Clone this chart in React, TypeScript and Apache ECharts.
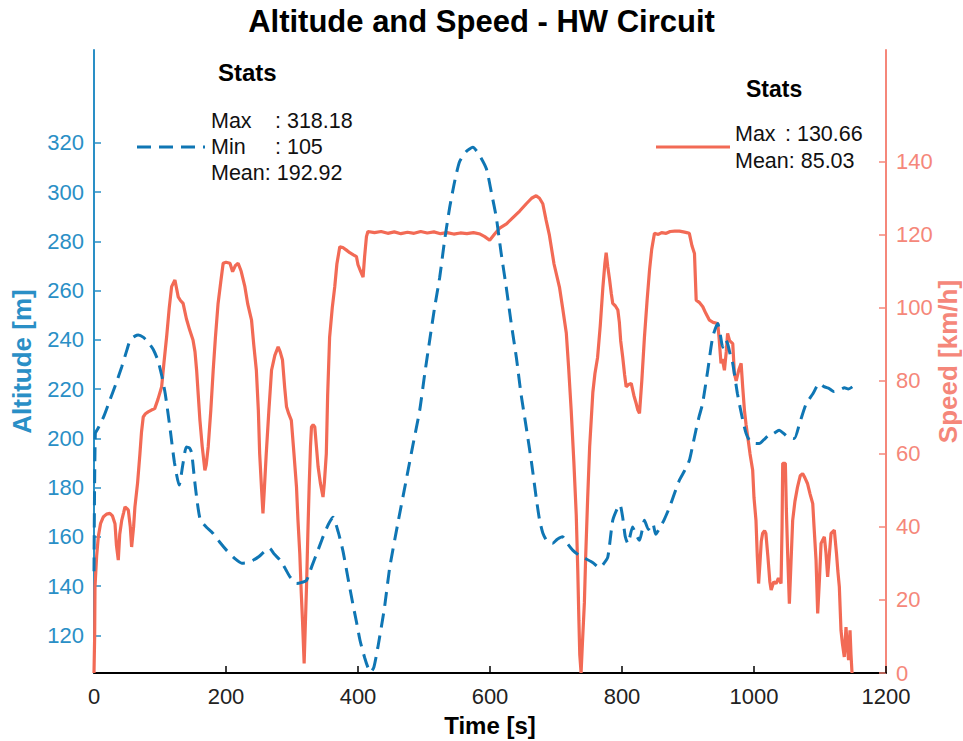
import React, { useEffect, useRef } from "react";
import * as echarts from "echarts";

const titleText = "Altitude and Speed - HW Circuit";
const xTicks = [0, 200, 400, 600, 800, 1000, 1200];
const altTicks = [120, 140, 160, 180, 200, 220, 240, 260, 280, 300, 320];
const speedTicks = [0, 20, 40, 60, 80, 100, 120, 140];

const altPoints: [number, number][] = [
  [0,146],[2,202],[6,204],[15,209],[24,215.5],[33,222],[42,229],[50,236],[55,240],[62,241.5],[67,242],[75,241],[82,239],[90,236],[97,231.5],[103,225],[108,218],[115,204.5],[122,190],[129,181],[135,190],[140,196.5],[145,196],[148,194],[152,184],[156,175],[161,167],[170,164],[180,161.5],[190,158],[201,154.5],[212,151.5],[224,149.3],[232,149.5],[241,150.5],[250,152],[258,154],[266,155.3],[273,153],[282,150.5],[290,147],[297,143.7],[307,141],[315,141.5],[322,142.3],[330,148],[340,155],[347,160],[355,165],[362,168],[370,162],[377,154.5],[385,143],[392,133],[398,125],[403,118],[410,111],[415,107],[419,105],[424,107],[430,115],[440,131],[448,147.4],[460,165],[473,183],[483,197],[493.5,211.4],[501,226],[508.6,239.8],[516,253],[523.8,265.4],[531,280],[539,293.9],[547,305],[554,312.4],[564,316.5],[574,318.2],[584,315],[594.5,309.5],[602,300],[609.6,289.6],[617,275],[624.7,261.2],[632,247],[640,232.7],[647,218],[655,204.3],[663,190],[670,175.9],[675,167],[680,161.6],[687,158],[695,157.4],[702,159],[710,160],[718,157],[725.6,154.5],[735,152.5],[745.8,151],[756,149.5],[766,147.4],[772,149],[778.5,151.8],[786,166.7],[793.7,172],[797,173],[801,168],[805,160],[809,157.3],[816,164],[821,161],[826.5,158.6],[830,162],[834,166.7],[840,163],[846.7,165.4],[851,161],[856.8,163.4],[864,167],[872,172],[880,178],[887,183],[895,187],[902,191],[907,197],[912,203.3],[917,209],[922,214],[930,227.7],[937.5,241.2],[945,246.6],[949,242],[952.6,237],[957,240],[960,238.5],[964,234],[967.8,230.4],[975,218],[983,207.3],[988,202],[993,199.2],[1000,198],[1008,197.9],[1015,199.5],[1023,201.3],[1030,202],[1038,203.3],[1045,202],[1051,200.6],[1061,199.9],[1069,206],[1079,214],[1089,218],[1099,222.3],[1106,221],[1114,220.2],[1121,219],[1129,219.5],[1137,220.5],[1143,220],[1149,220.9]
];

const speedPoints: [number, number][] = [
  [0,0],[1,10],[1.5,23.6],[4,32],[6.5,37.3],[10,41],[14,42.7],[19,43.5],[24,43.7],[28,43],[31.8,40.9],[34,35],[36.8,30.9],[39,38],[42,41.8],[45,44],[47,45.5],[50,45],[52,44.6],[55,40],[57,34.5],[60,40],[62,45.5],[66,52],[69.6,60.1],[72,66],[74.6,70.1],[78,71],[82,71.5],[87,72],[92,72.4],[97,75],[102.5,78.4],[106,85],[110,92],[114,100],[117.6,105.8],[122.6,107.6],[127.6,103],[131,102],[135,101.2],[140,97],[145,93.9],[150,91.2],[153,88],[155.5,82.9],[158,76],[160.5,69.2],[164,62],[168,55.5],[170,57],[173,61.9],[177,72],[180.6,82.9],[184,92],[188,101.2],[192,107],[195.7,112.2],[200,112.5],[206,112.2],[210,109.9],[214,111.5],[218.4,112.2],[223,110],[228.6,105.8],[233,101],[238.7,96.6],[242,90],[246,82.9],[249,72],[251,60.1],[254,50],[256,43.7],[258,50],[261,60.1],[265,72],[269,82.9],[274,87],[279,89.3],[282,88],[285.6,85.7],[289,78],[291.7,72.9],[295,71],[299,69.2],[303,60],[306.8,51],[309,42],[311.8,32.7],[314,22],[315.9,14.4],[318.4,2.6],[320,12],[322,23.6],[324,38],[326,51],[328,62],[329.5,67.4],[332,68],[334.5,67.4],[337,62],[339.6,56.4],[343,52],[347,48.2],[349,52],[352,60.1],[354,76],[357,92],[361,100],[364.8,105.8],[368,112],[372.4,116.7],[377,116.5],[382.5,115.8],[387.5,115.1],[393,114.5],[397.7,114],[400,111.8],[404,110],[407.7,108.4],[410,114],[412.8,119.5],[415,120.9],[425,120.6],[435,120.9],[445,120.4],[455,120.8],[465,120.3],[475,120.7],[485,120.4],[495,120.9],[505,120.5],[515,120.8],[525,120.3],[535,120.6],[545,120.2],[555,120.5],[565,120.3],[575,120.6],[585,120.2],[592,119.5],[599.5,118.5],[607,120.2],[614.6,121.8],[625,123],[634.7,124.7],[645,126.5],[655,128.5],[663,130],[670,130.7],[675,130],[680,128.5],[685,124],[690,119.9],[697,112],[705.4,105.5],[710,100],[715.6,93.1],[719,84],[723,72],[727,58],[730.7,43.2],[733,28],[734.7,14.4],[736,5],[738,0],[740,8],[743,19.2],[745,32],[748,48],[751,62],[755.8,76.8],[759,82],[763,86.4],[767,95],[771,105.5],[774,112],[776,115.1],[778.5,111.2],[781,108],[783.7,104],[786,101.2],[790,100.5],[793.7,99.4],[796,96],[798,91],[801,86.6],[804,81.6],[806.3,78.4],[810,79],[814,79.3],[818,76],[821.5,73.8],[824,72],[826.5,71.1],[830,80],[834,92],[838,102],[841.7,110.3],[845,116],[849.2,120.4],[855,120.1],[860,120.6],[867,120.4],[873,120.9],[880,121],[887,121],[893,120.8],[898,120.6],[902,120.4],[906,117],[909.8,114.9],[912.4,102.1],[917,101.5],[922.4,100.3],[927,98.5],[932.5,96.6],[938,96],[945,95.7],[947,92],[950,84.8],[952,86],[955.2,82.9],[958,88],[960,93],[963,91],[967.8,90.2],[970.3,82],[973,80],[977,83],[980.5,84.8],[983,78],[985.5,72],[988,68],[990.5,64.7],[994,60],[998,55.5],[1000,48],[1003,41.8],[1005,32],[1007,24.5],[1009,30],[1011,36],[1013,38.2],[1016,39],[1018,38.2],[1021,32],[1024,25],[1026,22.7],[1030,25],[1033.5,24.5],[1037,26],[1041,24.5],[1042.5,40],[1043.5,57.4],[1047.5,57.4],[1049,45],[1051,32.7],[1053.6,19],[1056,30],[1058.6,41.8],[1062,47],[1066,51],[1070,54],[1073.7,54.6],[1077,53.5],[1081,51.9],[1085,49],[1089,46.4],[1091,40],[1094,30.9],[1096.5,16.3],[1099,25],[1101.6,35.5],[1106.6,37.3],[1109,33],[1111.6,26.3],[1114,32],[1116.7,38.2],[1121.7,39.1],[1125,32.7],[1127,28],[1129.3,23.6],[1131.8,11.7],[1134,8],[1136.8,4.4],[1139.4,12.6],[1141,8],[1143.3,3.5],[1145.5,11.7],[1147,5],[1148.5,0]
];

const altStats = { max: "318.18", min: "105", mean: "192.92" };
const speedStats = { max: "130.66", mean: "85.03" };

const BLUE_LINE = "#0f76b4";
const BLUE_AXIS = "#2a8fc6";
const RED_LINE = "#f26a55";
const RED_AXIS = "#f5877a";
const FONT = "Liberation Sans, Arial, sans-serif";

export default function App() {
  const ref = useRef<HTMLDivElement>(null);
  useEffect(() => {
    document.body.style.margin = "0";
    if (!ref.current) return;
    const chart = echarts.init(ref.current, undefined, { renderer: "svg" });
    const statFont = { fontSize: 21.5, fontFamily: FONT, fill: "#111" };
    const plain = (v: number) => String(v);
    chart.setOption({
      animation: false,
      backgroundColor: "#fff",
      title: {
        text: titleText,
        left: "center",
        top: 1,
        textStyle: { fontSize: 31, fontWeight: "bold", color: "#000", fontFamily: FONT },
      },
      grid: { left: 94, right: 77, top: 50, bottom: 68, outerBoundsMode: "none", containLabel: false },
      xAxis: {
        type: "value",
        min: 0,
        max: 1200,
        interval: 200,
        name: "Time [s]",
        nameLocation: "middle",
        nameGap: 40,
        nameMoveOverlap: false,
        nameTextStyle: { fontSize: 24, fontWeight: "bold", color: "#000", fontFamily: FONT },
        axisLine: { show: true, lineStyle: { color: "#000", width: 2 } },
        axisTick: { show: true, inside: true, length: 7, lineStyle: { color: "#000", width: 1.5 } },
        axisLabel: {
          fontSize: 22, color: "#222", fontFamily: FONT, margin: 12,
          customValues: xTicks, formatter: plain,
        },
        splitLine: { show: false },
      },
      yAxis: [
        {
          type: "value",
          min: 104.7,
          max: 357.7,
          position: "left",
          name: "Altitude [m]",
          nameLocation: "middle",
          nameGap: 59,
          nameMoveOverlap: false,
          nameTextStyle: { fontSize: 26, fontWeight: "bold", color: BLUE_AXIS, fontFamily: FONT },
          axisLine: { show: true, lineStyle: { color: BLUE_AXIS, width: 2 } },
          axisTick: { show: true, inside: true, length: 7, customValues: altTicks, lineStyle: { color: BLUE_AXIS, width: 1.5 } },
          axisLabel: { fontSize: 22, color: BLUE_AXIS, fontFamily: FONT, margin: 10, customValues: altTicks, formatter: plain },
          splitLine: { show: false },
        },
        {
          type: "value",
          min: 0,
          max: 170.6,
          position: "right",
          name: "Speed [km/h]",
          nameLocation: "middle",
          nameGap: 49,
          nameMoveOverlap: false,
          nameTextStyle: { fontSize: 26, fontWeight: "bold", color: RED_AXIS, fontFamily: FONT },
          axisLine: { show: true, lineStyle: { color: RED_AXIS, width: 2 } },
          axisTick: { show: true, inside: true, length: 7, customValues: speedTicks, lineStyle: { color: RED_AXIS, width: 1.5 } },
          axisLabel: { fontSize: 22, color: RED_AXIS, fontFamily: FONT, margin: 10, customValues: speedTicks, formatter: plain },
          splitLine: { show: false },
        },
      ],
      series: [
        {
          name: "Speed",
          type: "line",
          yAxisIndex: 1,
          data: speedPoints,
          showSymbol: false,
          symbol: "none",
          lineStyle: { color: RED_LINE, width: 3.2 },
          z: 2,
        },
        {
          name: "Altitude",
          type: "line",
          yAxisIndex: 0,
          data: altPoints,
          showSymbol: false,
          symbol: "none",
          smooth: 0.2,
          lineStyle: { color: BLUE_LINE, width: 3, type: [14, 8] },
          z: 3,
        },
      ],
      graphic: [
        { type: "text", left: 218, top: 60, style: { text: "Stats", fontSize: 24, fontWeight: "bold", fontFamily: FONT, fill: "#000" } },
        { type: "text", x: 211, y: 121, style: { ...statFont, text: "Max", verticalAlign: "middle" } },
        { type: "text", x: 275, y: 121, style: { ...statFont, text: ": " + altStats.max, verticalAlign: "middle" } },
        { type: "text", x: 211, y: 147, style: { ...statFont, text: "Min", verticalAlign: "middle" } },
        { type: "text", x: 275, y: 147, style: { ...statFont, text: ": " + altStats.min, verticalAlign: "middle" } },
        { type: "text", x: 211, y: 173, style: { ...statFont, text: "Mean: " + altStats.mean, verticalAlign: "middle" } },
        { type: "line", shape: { x1: 137, y1: 147, x2: 205, y2: 147 }, style: { stroke: BLUE_LINE, lineWidth: 3, lineDash: [14, 8] } },
        { type: "text", left: 746, top: 77, style: { text: "Stats", fontSize: 23, fontWeight: "bold", fontFamily: FONT, fill: "#000" } },
        { type: "text", x: 735, y: 134, style: { ...statFont, text: "Max", verticalAlign: "middle" } },
        { type: "text", x: 785, y: 134, style: { ...statFont, text: ": " + speedStats.max, verticalAlign: "middle" } },
        { type: "text", x: 735, y: 161, style: { ...statFont, text: "Mean: " + speedStats.mean, verticalAlign: "middle" } },
        { type: "line", shape: { x1: 656, y1: 147, x2: 730, y2: 147 }, style: { stroke: RED_LINE, lineWidth: 3 } },
      ],
    });
    return () => chart.dispose();
  }, []);
  return <div ref={ref} style={{ width: 963, height: 741 }} />;
}
